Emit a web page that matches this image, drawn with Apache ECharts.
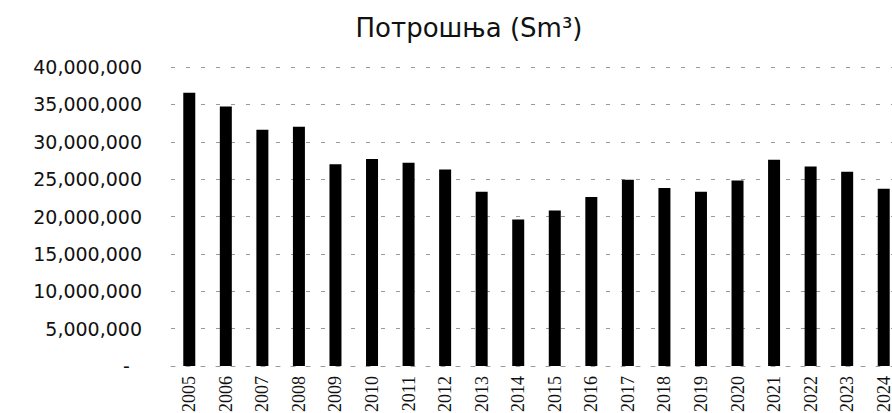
<!DOCTYPE html>
<html>
<head>
<meta charset="utf-8">
<title>Потрошња</title>
<script src="https://cdn.jsdelivr.net/npm/echarts@6/dist/echarts.min.js"></script>
<style>
  html, body { margin: 0; padding: 0; background: #fff; }
  #chart { width: 892px; height: 413px; }
</style>
</head>
<body>
<div id="chart"></div>
<script>
// годишња потрошња гаса
var years = ['2005', '2006', '2007', '2008', '2009', '2010', '2011', '2012', '2013', '2014',
  '2015', '2016', '2017', '2018', '2019', '2020', '2021', '2022', '2023', '2024'];
var potrosnja = [36550000, 34700000, 31600000, 32000000, 27000000, 27700000, 27200000, 26300000, 23300000, 19600000,
  20800000, 22600000, 24900000, 23800000, 23300000, 24800000, 27600000, 26700000, 26000000, 23700000];

var chartDom = document.getElementById('chart');
var myChart = echarts.init(chartDom, null, { renderer: 'svg' });

var sansFont = 'DejaVu Sans';
var serifFont = 'serif';

var gridLine = {
  show: true,
  lineStyle: {
    color: '#9a9a9a',
    width: 1,
    type: [4, 11]
  }
};

var option = {
  animation: false,
  backgroundColor: '#fff',
  textStyle: {
    fontFamily: sansFont
  },
  title: {
    text: 'Потрошња (Sm³)',
    left: 464,
    top: 10,
    textAlign: 'center',
    textStyle: {
      fontFamily: sansFont,
      fontWeight: 'normal',
      fontSize: 26,
      color: '#111'
    }
  },
  grid: {
    left: 171,
    top: 67,
    width: 731,
    bottom: 47,
    containLabel: false,
    outerBoundsMode: 'none'
  },
  xAxis: {
    type: 'category',
    data: years,
    axisLine: gridLine,
    axisTick: { show: false },
    axisLabel: {
      rotate: 90,
      margin: 10,
      interval: 0,
      fontFamily: serifFont,
      fontSize: 18,
      color: '#111'
    }
  },
  yAxis: {
    type: 'value',
    min: 0,
    max: 40000000,
    interval: 5000000,
    axisLine: { show: false },
    axisTick: { show: false },
    splitLine: gridLine,
    axisLabel: {
      margin: 29,
      fontFamily: sansFont,
      fontSize: 19,
      color: '#111',
      formatter: function (v) {
        if (v === 0) return '-  ';
        return v.toLocaleString('en-US');
      }
    }
  },
  series: [
    {
      name: 'Потрошња',
      type: 'bar',
      data: potrosnja,
      barWidth: 12,
      itemStyle: {
        color: '#000'
      }
    }
  ]
};

myChart.setOption(option);
</script>
</body>
</html>
